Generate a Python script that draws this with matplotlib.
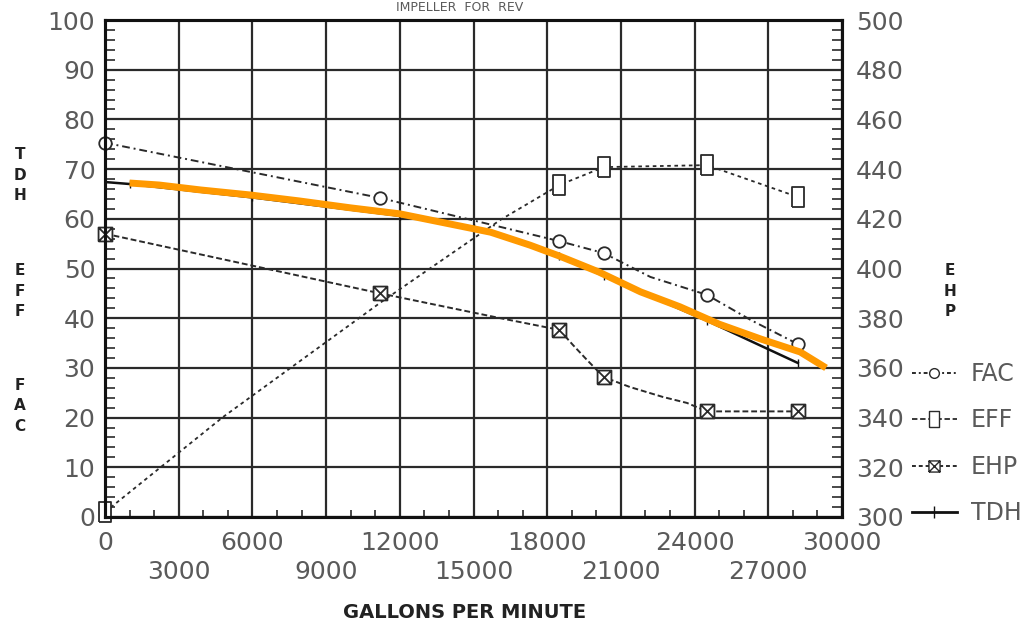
import numpy as np
import matplotlib
matplotlib.use("Agg")
import matplotlib.pyplot as plt
from matplotlib.path import Path
from matplotlib.lines import Line2D

# flow values (gallons per minute)
fac_x = [0, 11200, 18500, 20300, 22200, 24500, 26300, 28200]
fac_y = [75.3, 64.2, 55.5, 53.1, 48.3, 44.7, 39.6, 34.8]
fac_mx = [0, 11200, 18500, 20300, 24500, 28200]
fac_my = [75.3, 64.2, 55.5, 53.1, 44.7, 34.8]

eff_x = [0, 4800, 11200, 16100, 18500, 20300, 24500, 28200]
eff_y = [1.0, 20.1, 43.1, 59.8, 66.8, 70.4, 70.8, 64.4]
eff_mx = [0, 18500, 20300, 24500, 28200]
eff_my = [1.0, 66.8, 70.4, 70.8, 64.4]

ehp_x = [0, 11200, 16100, 18500, 19050, 19620, 20300, 21370, 22710, 23690, 24500, 28200]
ehp_y = [414, 390, 380, 375.3, 369.2, 363.2, 356.3, 352.3, 348.3, 345.9, 342.5, 342.5]
ehp_mx = [0, 11200, 18500, 20300, 24500, 28200]
ehp_my = [414, 390, 375.3, 356.3, 342.5, 342.5]

tdh_x = [0, 1000, 6000, 12000, 15000, 18500, 20300, 24500, 28200]
tdh_y = [67.4, 67.0, 64.3, 60.6, 58.2, 52.5, 48.5, 39.5, 31.0]

hl_x = [1000, 2200, 3900, 5900, 7900, 10000, 12000, 14000, 15700, 17300,
        18500, 20100, 21800, 23400, 25000, 26700, 28300, 29350]
hl_y = [67.2, 66.8, 65.8, 64.8, 63.6, 62.2, 61.0, 59.0, 57.3, 54.7,
        52.5, 49.3, 45.3, 42.3, 38.8, 35.8, 33.2, 30.0]

x_ticks = list(range(0, 30001, 3000))
left_ticks = list(range(0, 101, 10))
right_ticks = list(range(300, 501, 20))

ink = "#2a2a2a"
txt = "#5a5a5a"

# tall box marker for EFF, boxed cross for EHP
tall_box = Path([(-0.6, -1), (0.6, -1), (0.6, 1), (-0.6, 1), (-0.6, -1)])
box_x = Path([(-1, -1), (1, -1), (1, 1), (-1, 1), (-1, -1), (-1, -1), (1, 1), (-1, 1), (1, -1)],
             [Path.MOVETO, Path.LINETO, Path.LINETO, Path.LINETO, Path.LINETO,
              Path.MOVETO, Path.LINETO, Path.MOVETO, Path.LINETO])

fig = plt.figure(figsize=(10.21, 6.26), dpi=100)
ax = fig.add_axes([105 / 1021, 1 - 517 / 626, (842 - 105) / 1021, (517 - 20) / 626])
ax2 = ax.twinx()

ax.set_xlim(0, 30000)
ax.set_ylim(0, 100)
ax2.set_ylim(300, 500)

ax.set_xticks(x_ticks)
ax.set_xticklabels([str(v) if i % 2 == 0 else "\n" + str(v) for i, v in enumerate(x_ticks)])
ax.set_xticks([v for v in range(1000, 30000, 1000) if v % 3000], minor=True)
ax.set_yticks(left_ticks)
ax.set_yticks([v for v in range(2, 100, 2) if v % 10], minor=True)
ax2.set_yticks(right_ticks)
ax2.set_yticks([v for v in range(304, 500, 4) if v % 20], minor=True)

ax.grid(True, which="major", color=ink, lw=1.6)
ax.tick_params(axis="x", which="major", length=0, pad=10, labelsize=18, labelcolor=txt)
ax.tick_params(axis="x", which="minor", direction="in", length=5, width=1.2, color=ink)
ax.tick_params(axis="y", which="major", direction="in", length=0, pad=7, labelsize=18, labelcolor=txt)
ax.tick_params(axis="y", which="minor", direction="in", length=7, width=1.2, color=ink)
ax2.tick_params(axis="y", which="major", direction="in", length=0, pad=10, labelsize=18, labelcolor=txt)
ax2.tick_params(axis="y", which="minor", direction="in", length=7, width=1.2, color=ink)
for a in (ax, ax2):
    for s in a.spines.values():
        s.set_linewidth(2.2)
        s.set_color("#111111")
for lab in ax.get_xticklabels():
    lab.set_linespacing(1.25)

ax.plot(fac_x, fac_y, color=ink, lw=1.4, ls=(0, (4, 2, 1, 2)))
ax.plot(fac_mx, fac_my, ls="none", marker="o", ms=9, mfc="white", mec=ink, mew=1.3, clip_on=False)
ax.plot(eff_x, eff_y, color=ink, lw=1.3, ls=(0, (2, 2)))
ax.plot(eff_mx, eff_my, ls="none", marker=tall_box, ms=14, mfc="white", mec=ink, mew=1.3, clip_on=False)
ax2.plot(ehp_x, ehp_y, color=ink, lw=1.4, ls=(0, (3, 1.5)))
ax2.plot(ehp_mx, ehp_my, ls="none", marker=box_x, ms=10, mfc="white", mec=ink, mew=1.3, clip_on=False)
ax.plot(tdh_x, tdh_y, color="#111111", lw=1.8, marker="|", ms=6, mec="#111111")
ax.plot(hl_x, hl_y, color="#ff9900", lw=5, solid_capstyle="butt", zorder=5)

handles = [
    Line2D([], [], color=ink, lw=1.4, ls=(0, (2, 1.5, 1, 1.5)), marker="o", ms=7, mfc="white", mec=ink),
    Line2D([], [], color=ink, lw=1.3, ls=(0, (3, 1.5)), marker=tall_box, ms=12, mfc="white", mec=ink),
    Line2D([], [], color=ink, lw=1.4, ls=(0, (2, 1.5)), marker=box_x, ms=8, mfc="white", mec=ink),
    Line2D([], [], color="#111111", lw=2, marker="|", ms=8),
]
fig.legend(handles, ["FAC", "EFF", "EHP", "TDH"], loc="upper left",
           bbox_to_anchor=(912 / 1021, 1 - 362 / 626), frameon=False, fontsize=17,
           labelcolor=txt, handlelength=1.9, handletextpad=0.6, labelspacing=0.95,
           borderpad=0, borderaxespad=0)

fig.text(465 / 1021, 1 - 612 / 626, "GALLONS PER MINUTE", ha="center", va="center",
         fontsize=14, fontweight="bold", color="#222222")
for label, yc in [("T\nD\nH", 175), ("E\nF\nF", 291), ("F\nA\nC", 406)]:
    fig.text(20 / 1021, 1 - yc / 626, label, ha="center", va="center", fontsize=11,
             fontweight="bold", color="#222222", linespacing=1.45)
fig.text(950 / 1021, 1 - 291 / 626, "E\nH\nP", ha="center", va="center", fontsize=11,
         fontweight="bold", color="#222222", linespacing=1.45)
fig.text(460 / 1021, 0.998, "IMPELLER  FOR  REV", ha="center", va="top",
         fontsize=9, color=txt)

fig.savefig("out.png", dpi=100)
